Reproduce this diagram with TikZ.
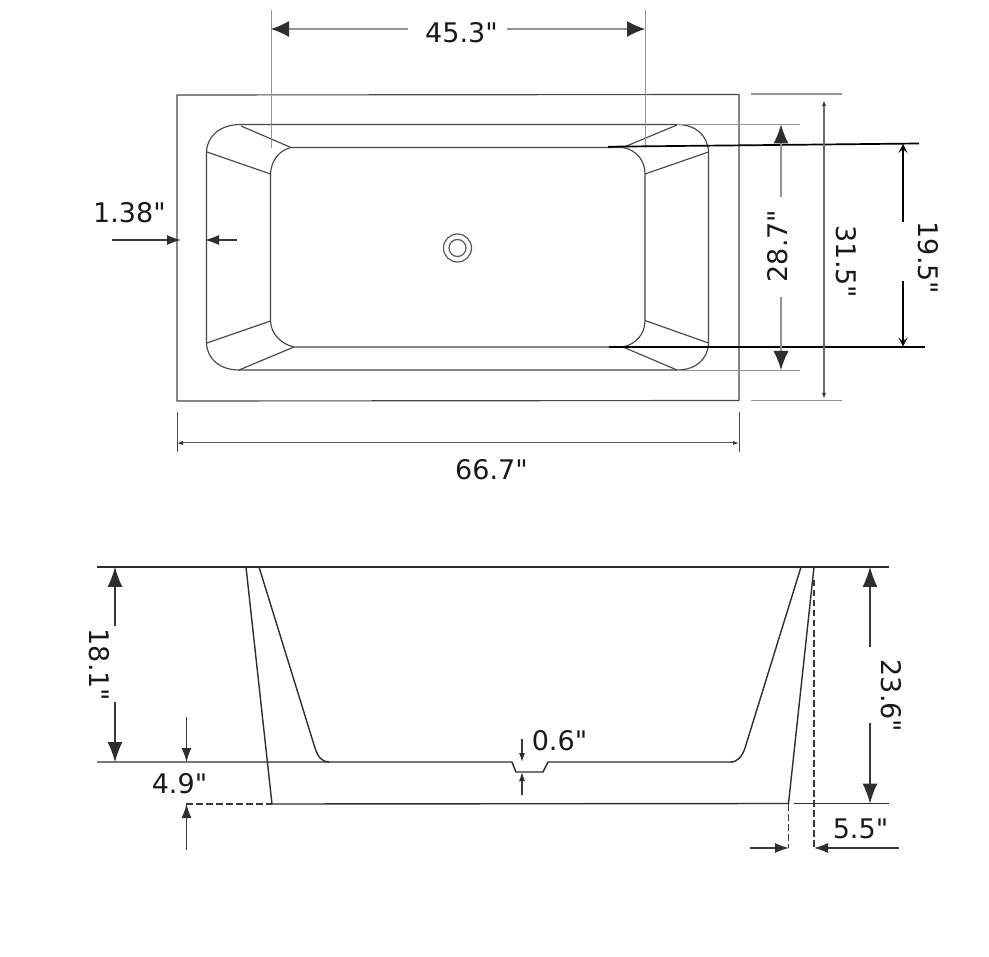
\documentclass[tikz,border=0pt]{standalone}
\usepackage{fontspec}
\newfontfamily\lblfont{DejaVu Sans}
\usetikzlibrary{arrows.meta}
\tikzset{
  x=1pt,y=-1pt,
  tub/.style={draw=black!72,line width=1.15pt,line join=round},
  thin grey/.style={draw=black!42,line width=0.9pt},
  lower/.style={draw=black!82,line width=1.4pt,line join=round},
  heavy/.style={draw=black,line width=1.7pt},
  dims/.style={draw=black!78,line width=1.2pt},
  dashline/.style={draw=black!78,line width=1.5pt,dash pattern=on 6.5pt off 3.5pt},
  bighead/.style={-{Latex[length=18pt,width=16pt,color=black!82]}},
  midhead/.style={-{Latex[length=14pt,width=10pt,color=black!82]}},
  hairhead/.style={{Latex[length=6pt,width=4pt,color=black!80]}-{Latex[length=6pt,width=4pt,color=black!80]}},
  lbl/.style={font=\lblfont\fontsize{27}{30}\selectfont,text=black!90,inner sep=0pt,anchor=center},
}
\begin{document}
\begin{tikzpicture}
\useasboundingbox[fill=white] (0,0) rectangle (989,957);

% ---- plan view
\draw[tub] (177,95) -- (739,94.5) -- (739,400.5) -- (177,401) -- cycle;
% rim (outer curve of the bowl)
\draw[tub] (241,124.5) -- (677,124.5)
  .. controls (696,124.5) and (708,136) .. (708.5,152)
  -- (708.5,343)
  .. controls (708,359) and (696,370) .. (677,370)
  -- (239,370)
  .. controls (220,370) and (207,359) .. (206.5,343)
  -- (206.5,152)
  .. controls (207,136) and (220,124.5) .. (241,124.5);
% basin
\draw[tub] (291,147.5) -- (623,147.5)
  .. controls (636,150) and (645,160) .. (645,174)
  -- (645,320.5)
  .. controls (645,334) and (636,344) .. (623,347)
  -- (294,347)
  .. controls (281,344) and (271,334) .. (270.5,321)
  -- (270.5,174)
  .. controls (271,160) and (280,150) .. (291,147.5);
% corner facets
\draw[tub] (241,126) -- (291,147.5) (207,152) -- (270.5,174);
\draw[tub] (677,125) -- (623,147.5) (708.5,152) -- (645,174);
\draw[tub] (207,343) -- (270.5,321) (239,370) -- (294,347);
\draw[tub] (708.5,343) -- (645,320.5) (677,370) -- (623,347);
% drain
\node[circle,draw=black!65,line width=1.2pt,minimum size=28pt,inner sep=0pt] (drainout) at (457.5,248) {};
\node[circle,draw=black!65,line width=1.2pt,minimum size=17pt,inner sep=0pt] (drainin) at (457.5,248) {};

% extension lines
\draw[thin grey] (271,10) -- (271,148) (645,10) -- (645,148);
\draw[thin grey] (677,124.5) -- (800,124.5) (677,370) -- (800,370);
\draw[thin grey,line width=1.1pt] (751,94) -- (842,94) (751,400.5) -- (842,400.5);
\draw[draw=black!70,line width=0.9pt] (177,412) -- (177,452) (739,412) -- (739,452);
\draw[heavy] (608,146.7) -- (919,143.5);
\draw[heavy] (609,347) -- (925,347);

% 45.3
\coordinate (a45l) at (271,29); \coordinate (a45m) at (408,29);
\coordinate (a45n) at (507,29); \coordinate (a45r) at (645,29);
\draw[thin grey,line width=1.1pt,bighead] (a45m) -- (a45l);
\draw[thin grey,line width=1.1pt,bighead] (a45n) -- (a45r);
\node[lbl] (t45) at (461.5,33) {45.3"};

% 1.38
\coordinate (a138a) at (112,240); \coordinate (a138b) at (181,240);
\coordinate (a138c) at (237,240); \coordinate (a138d) at (205,240);
\draw[dims,midhead] (a138a) -- (a138b);
\draw[dims,midhead] (a138c) -- (a138d);
\node[lbl] (t138) at (129.5,213) {1.38"};

% 28.7
\coordinate (a287t) at (781,124.5); \coordinate (a287u) at (781,197);
\coordinate (a287v) at (781,297); \coordinate (a287b) at (781,370);
\draw[thin grey,line width=1.1pt,-{Latex[length=19pt,width=15pt,color=black!82]}] (a287u) -- (a287t);
\draw[thin grey,line width=1.1pt,-{Latex[length=19pt,width=15pt,color=black!82]}] (a287v) -- (a287b);
\node[lbl,rotate=90] (t287) at (778,246) {28.7"};

% 31.5
\coordinate (a315t) at (824,100); \coordinate (a315b) at (824,399);
\draw[draw=black!58,line width=1.2pt,hairhead] (a315t) -- (a315b);
\node[lbl,rotate=-90] (t315) at (846,262) {31.5"};

% 19.5
\coordinate (a195t) at (903,144); \coordinate (a195u) at (903,222);
\coordinate (a195v) at (903,281); \coordinate (a195b) at (903,346.5);
\draw[draw=black,line width=1.3pt,-{Stealth[length=9pt,width=9pt,inset=4pt]}] (a195u) -- (a195t);
\draw[draw=black,line width=1.3pt,-{Stealth[length=9pt,width=9pt,inset=4pt]}] (a195v) -- (a195b);
\node[lbl,rotate=-90] (t195) at (928,258) {19.5"};

% 66.7
\coordinate (a667l) at (177,443); \coordinate (a667r) at (739,443);
\draw[draw=black!65,line width=1pt,hairhead] (a667l) -- (a667r);
\node[lbl] (t667) at (491.5,470) {66.7"};

% ---- section view
\draw[lower] (97,567) -- (889,567);
\draw[lower] (97,762) -- (512,762) -- (516,772) -- (543,772) -- (548,762) -- (733,762);
\draw[lower,line cap=round] (246,567) -- (272,804) -- (788.5,803.5) -- (814,567);
\draw[lower] (794,803.5) -- (889,803.5);
\draw[lower] (259,567) -- (315,748) .. controls (318,757) and (322,762) .. (329,762);
\draw[lower] (801,567) -- (745,748) .. controls (742,757) and (737,762) .. (731,762);
\draw[dashline] (186,804) -- (272,804);
\draw[dashline] (814,580) -- (814,848);
\draw[dashline] (788.5,804) -- (788.5,848);

% 18.1
\coordinate (a181t) at (115,567); \coordinate (a181u) at (115,626);
\coordinate (a181v) at (115,702); \coordinate (a181b) at (115,762);
\draw[dims,-{Latex[length=20pt,width=15pt,color=black!82]}] (a181u) -- (a181t);
\draw[dims,-{Latex[length=20pt,width=15pt,color=black!82]}] (a181v) -- (a181b);
\node[lbl,rotate=-90] (t181) at (99,665) {18.1"};

% 4.9
\coordinate (a49a) at (186.5,717); \coordinate (a49b) at (186.5,762);
\coordinate (a49c) at (186.5,850); \coordinate (a49d) at (186.5,804);
\draw[dims,midhead] (a49a) -- (a49b);
\draw[dims,midhead] (a49c) -- (a49d);
\node[lbl] (t49) at (179.5,784) {4.9"};

% 0.6
\coordinate (a06a) at (522,739); \coordinate (a06b) at (522,762);
\coordinate (a06c) at (522,795); \coordinate (a06d) at (522,772);
\draw[dims,-{Latex[length=9pt,width=6pt,color=black!82]}] (a06a) -- (a06b);
\draw[dims,-{Latex[length=9pt,width=6pt,color=black!82]}] (a06c) -- (a06d);
\node[lbl] (t06) at (559.5,741) {0.6"};

% 23.6
\coordinate (a236t) at (870,567); \coordinate (a236u) at (870,647);
\coordinate (a236v) at (870,723); \coordinate (a236b) at (870,803.5);
\draw[dims,-{Latex[length=20pt,width=15pt,color=black!82]}] (a236u) -- (a236t);
\draw[dims,-{Latex[length=20pt,width=15pt,color=black!82]}] (a236v) -- (a236b);
\node[lbl,rotate=-90] (t236) at (891,696) {23.6"};

% 5.5
\coordinate (a55a) at (750,848); \coordinate (a55b) at (789,848);
\coordinate (a55c) at (899,848); \coordinate (a55d) at (814,848);
\draw[dims,-{Latex[length=14pt,width=10pt,color=black!82]}] (a55a) -- (a55b);
\draw[dims,-{Latex[length=14pt,width=10pt,color=black!82]}] (a55c) -- (a55d);
\node[lbl] (t55) at (860.5,829) {5.5"};
\end{tikzpicture}
\end{document}
